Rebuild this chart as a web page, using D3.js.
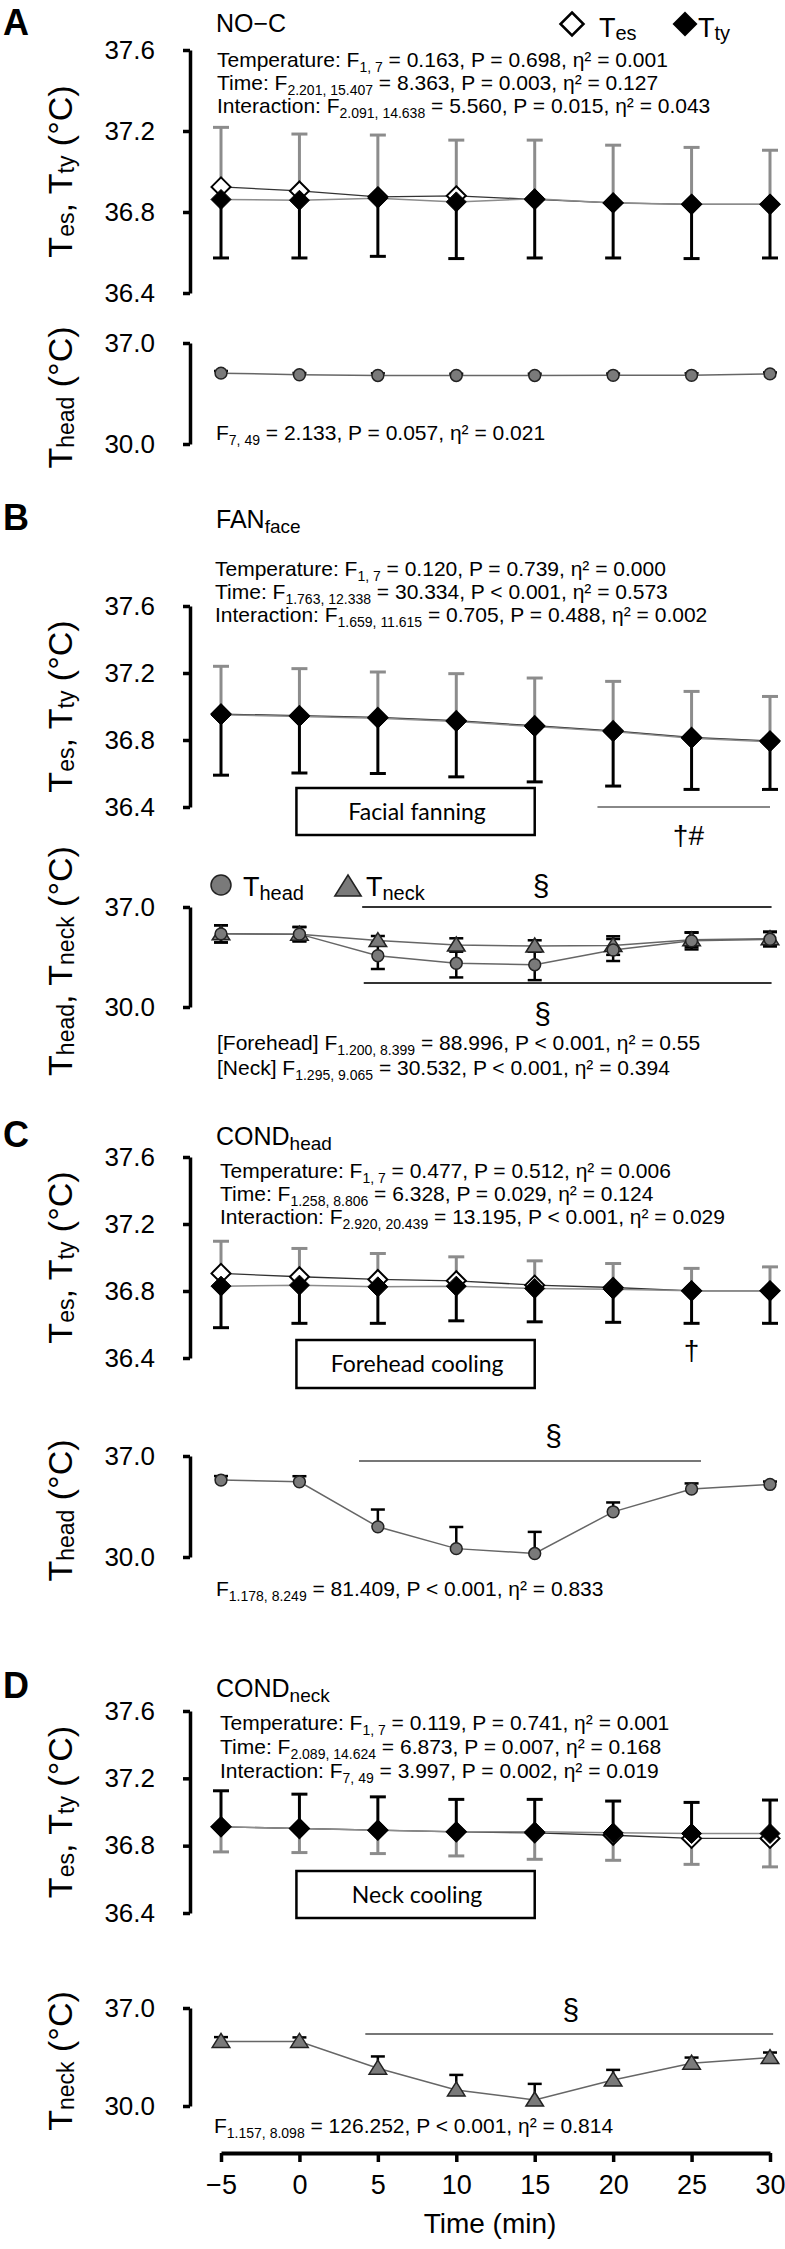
<!DOCTYPE html>
<html><head><meta charset="utf-8">
<script src="https://cdn.jsdelivr.net/npm/d3@7"></script>
<style>
body{margin:0;background:#fff}
svg{display:block;font-family:"Liberation Sans",Arial,sans-serif}
</style></head>
<body><svg width="785" height="2249"></svg>
<script>
const times = [-5, 0, 5, 10, 15, 20, 25, 30];
const upperTicks = [36.4, 36.8, 37.2, 37.6];
const lowerTicks = [30.0, 37.0];

// A  NO-C
const aTes   = [36.924, 36.904, 36.875, 36.880, 36.862, 36.845, 36.838, 36.838];
const aTesSd = [0.294, 0.281, 0.305, 0.275, 0.293, 0.285, 0.281, 0.267];
const aTty   = [36.862, 36.858, 36.868, 36.850, 36.866, 36.845, 36.838, 36.838];
const aTtySd = [0.289, 0.285, 0.287, 0.280, 0.293, 0.272, 0.268, 0.265];
const aHead   = [34.91, 34.80, 34.75, 34.75, 34.75, 34.76, 34.76, 34.86];
const aHeadSd = [0.15, 0.12, 0.15, 0.12, 0.12, 0.12, 0.14, 0.10];

// B  FAN_face
const bTes   = [36.955, 36.945, 36.935, 36.915, 36.885, 36.855, 36.815, 36.795];
const bTesSd = [0.285, 0.281, 0.271, 0.281, 0.285, 0.295, 0.275, 0.265];
const bTty   = [36.950, 36.940, 36.930, 36.910, 36.880, 36.850, 36.810, 36.790];
const bTtySd = [0.360, 0.337, 0.330, 0.330, 0.330, 0.325, 0.305, 0.285];
const bHead   = [35.12, 35.10, 33.59, 33.06, 32.96, 33.99, 34.63, 34.74];
const bHeadSd = [0.60, 0.50, 0.93, 0.99, 1.08, 0.77, 0.60, 0.50];
const bNeck   = [35.12, 35.10, 34.65, 34.34, 34.27, 34.30, 34.70, 34.78];
const bNeckSd = [0.60, 0.50, 0.32, 0.47, 0.40, 0.65, 0.50, 0.50];

// C  COND_head
const cTes   = [36.905, 36.885, 36.869, 36.861, 36.835, 36.821, 36.801, 36.801];
const cTesSd = [0.192, 0.169, 0.155, 0.143, 0.145, 0.143, 0.134, 0.143];
const cTty   = [36.829, 36.835, 36.825, 36.829, 36.815, 36.811, 36.801, 36.801];
const cTtySd = [0.248, 0.228, 0.218, 0.207, 0.199, 0.198, 0.194, 0.194];
const cHead   = [35.33, 35.21, 32.09, 30.58, 30.24, 33.13, 34.71, 35.03];
const cHeadSd = [0.28, 0.39, 1.20, 1.50, 1.50, 0.65, 0.39, 0.20];

// D  COND_neck
const dTes   = [36.912, 36.902, 36.892, 36.882, 36.876, 36.862, 36.843, 36.843];
const dTesSd = [0.149, 0.143, 0.139, 0.143, 0.157, 0.149, 0.154, 0.169];
const dTty   = [36.912, 36.902, 36.892, 36.882, 36.882, 36.876, 36.872, 36.872];
const dTtySd = [0.214, 0.204, 0.198, 0.193, 0.193, 0.189, 0.185, 0.199];
const dNeck   = [34.61, 34.61, 32.70, 31.15, 30.43, 31.86, 33.06, 33.46];
const dNeckSd = [0.31, 0.29, 0.84, 1.07, 1.15, 0.72, 0.40, 0.36];

const svg = d3.select('svg'),
    x = d3.scaleLinear().domain([-5, 30]).range([221, 770]),
    axisX = 190;

// text with _{sub} parts
function rich(g, str, px, py, size, subSize, subDy, anchor) {
  const t = g.append('text').attr('x', px).attr('y', py)
    .attr('font-size', size).attr('text-anchor', anchor || 'start');
  const parts = str.split(/(_\{[^}]*\})/).filter(s => s.length);
  let down = false;
  parts.forEach(p => {
    if (p.startsWith('_{')) {
      t.append('tspan').attr('font-size', subSize).attr('dy', subDy).text(p.slice(2, -1));
      down = true;
    } else {
      t.append('tspan').attr('dy', down ? -subDy : 0).text(p);
      down = false;
    }
  });
  return t;
}

const diamond = r => `M0,${-r}L${r},0L0,${r}L${-r},0Z`;
const triangle = r => `M0,${-r}L${r*1.1},${r*0.75}L${-r*1.1},${r*0.75}Z`;
const circle = d3.symbol(d3.symbolCircle, 110)();

function errBars(g, y, vals, sds, dir, color, w, cap) {
  times.forEach((t, i) => {
    const cx = x(t), v = vals[i], s = sds[i];
    const ends = dir == 'both' ? [v + s, v - s] : dir == 'up' ? [v + s] : [v - s];
    ends.forEach(e => {
      g.append('line').attr('x1', cx).attr('x2', cx).attr('y1', y(v)).attr('y2', y(e))
        .attr('stroke', color).attr('stroke-width', w);
      g.append('line').attr('x1', cx - cap).attr('x2', cx + cap).attr('y1', y(e)).attr('y2', y(e))
        .attr('stroke', color).attr('stroke-width', w);
    });
  });
}

function series(g, y, vals, color, w) {
  g.append('path').datum(vals)
    .attr('d', d3.line().x((d, i) => x(times[i])).y(d => y(d)))
    .attr('fill', 'none').attr('stroke', color).attr('stroke-width', w);
}

function markers(g, y, vals, shape, fill, stroke, sw) {
  g.selectAll(null).data(vals).enter().append('path')
    .attr('transform', (d, i) => `translate(${x(times[i])},${y(d)})`)
    .attr('d', shape).attr('fill', fill).attr('stroke', stroke).attr('stroke-width', sw);
}

function yAxis(y, ticks, label, labelY) {
  const ax = svg.append('g').attr('transform', `translate(${axisX},0)`)
    .call(d3.axisLeft(y).tickValues(ticks).tickFormat(d3.format('.1f'))
      .tickSize(7).tickSizeOuter(0).tickPadding(28));
  ax.select('.domain').attr('stroke-width', 3.5);
  ax.selectAll('.tick line').attr('stroke-width', 3.5);
  ax.selectAll('.tick text').attr('font-size', 26).attr('font-family', '"Liberation Sans",Arial,sans-serif');
  const t = rich(svg, label, 0, 0, 34, 23, 2, 'middle');
  t.attr('transform', `translate(72,${labelY}) rotate(-90)`);
}

function upperPanel(cfg) {
  const y = d3.scaleLinear().domain([36.4, 37.6]).range(cfg.range);
  yAxis(y, upperTicks, 'T_{es},  T_{ty}  (°C)', (cfg.range[0] + cfg.range[1]) / 2);
  const g = svg.append('g');
  // Tes error bars gray, Tty black
  errBars(g, y, cfg.tes, cfg.tesSd, cfg.tesDir, '#8c8c8c', 3, 8);
  errBars(g, y, cfg.tty, cfg.ttySd, cfg.ttyDir, '#000', 3, 8);
  series(g, y, cfg.tes, '#333', 1.3);
  series(g, y, cfg.tty, '#8c8c8c', 1.5);
  markers(g, y, cfg.tes, diamond(9.5), '#fff', '#000', 2);
  markers(g, y, cfg.tty, diamond(10), '#000', '#000', 1);
  cfg.stats.forEach((s, i) => rich(svg, s, cfg.statX, cfg.statY[i], 21, 14, 5));
  return y;
}

function lowerPanel(cfg) {
  const y = d3.scaleLinear().domain([30, 37]).range(cfg.range);
  yAxis(y, lowerTicks, cfg.label, (cfg.range[0] + cfg.range[1]) / 2 + 4);
  const g = svg.append('g');
  cfg.sets.forEach(s => errBars(g, y, s.vals, s.sds, s.dir, '#000', 2.5, 7));
  cfg.sets.forEach(s => series(g, y, s.vals, '#666', 1.5));
  cfg.sets.forEach(s => markers(g, y, s.vals, s.shape, '#7a7a7a', '#222', 1.5));
  cfg.stats.forEach((s, i) => rich(svg, s, cfg.statX, cfg.statY[i], 21, 14, 5));
  return y;
}

// panel letters and titles
[['A', 35], ['B', 530], ['C', 1147], ['D', 1698]].forEach(([l, yy]) =>
  svg.append('text').attr('x', 3).attr('y', yy).attr('font-size', 36).attr('font-weight', 'bold').text(l));
[['NO−C', 32], ['FAN_{face}', 528], ['COND_{head}', 1145], ['COND_{neck}', 1697]].forEach(([l, yy]) =>
  rich(svg, l, 216, yy, 25, 19, 5));

// legend A
svg.append('path').attr('transform', 'translate(572,24)').attr('d', diamond(11.5))
  .attr('fill', '#fff').attr('stroke', '#000').attr('stroke-width', 2.5);
rich(svg, 'T_{es}', 599, 37, 27, 20, 3);
svg.append('path').attr('transform', 'translate(685,24)').attr('d', diamond(12.5)).attr('fill', '#000');
rich(svg, 'T_{ty}', 698, 37, 27, 20, 3);

// ---- A
upperPanel({range: [293, 50], tes: aTes, tesSd: aTesSd, tesDir: 'up', tty: aTty, ttySd: aTtySd, ttyDir: 'down',
  statX: 217, statY: [67, 90, 113],
  stats: ['Temperature: F_{1, 7} = 0.163, P = 0.698, η² = 0.001',
          'Time: F_{2.201, 15.407} = 8.363, P = 0.003, η² = 0.127',
          'Interaction: F_{2.091, 14.638} = 5.560, P = 0.015, η² = 0.043']});
lowerPanel({range: [444, 343], label: 'T_{head}  (°C)',
  sets: [{vals: aHead, sds: aHeadSd, dir: 'up', shape: circle}],
  statX: 216, statY: [440], stats: ['F_{7, 49} = 2.133, P = 0.057, η² = 0.021']});

// ---- B
upperPanel({range: [807, 606], tes: bTes, tesSd: bTesSd, tesDir: 'up', tty: bTty, ttySd: bTtySd, ttyDir: 'down',
  statX: 215, statY: [576, 599, 622],
  stats: ['Temperature: F_{1, 7} = 0.120, P = 0.739, η² = 0.000',
          'Time: F_{1.763, 12.338} = 30.334, P < 0.001, η² = 0.573',
          'Interaction: F_{1.659, 11.615} = 0.705, P = 0.488, η² = 0.002']});
lowerPanel({range: [1007, 907], label: 'T_{head},  T_{neck}  (°C)',
  sets: [{vals: bNeck, sds: bNeckSd, dir: 'both', shape: triangle(8)},
         {vals: bHead, sds: bHeadSd, dir: 'both', shape: circle}],
  statX: 217, statY: [1050, 1075],
  stats: ['[Forehead] F_{1.200, 8.399} = 88.996, P < 0.001, η² = 0.55',
          '[Neck] F_{1.295, 9.065} = 30.532, P < 0.001, η² = 0.394']});

// ---- C
upperPanel({range: [1358, 1157], tes: cTes, tesSd: cTesSd, tesDir: 'up', tty: cTty, ttySd: cTtySd, ttyDir: 'down',
  statX: 220, statY: [1178, 1201, 1224],
  stats: ['Temperature: F_{1, 7} = 0.477, P = 0.512, η² = 0.006',
          'Time: F_{1.258, 8.806} = 6.328, P = 0.029, η² = 0.124',
          'Interaction: F_{2.920, 20.439} = 13.195, P < 0.001, η² = 0.029']});
lowerPanel({range: [1557, 1456], label: 'T_{head}  (°C)',
  sets: [{vals: cHead, sds: cHeadSd, dir: 'up', shape: circle}],
  statX: 216, statY: [1596], stats: ['F_{1.178, 8.249} = 81.409, P < 0.001, η² = 0.833']});

// ---- D
upperPanel({range: [1913, 1711], tes: dTes, tesSd: dTesSd, tesDir: 'down', tty: dTty, ttySd: dTtySd, ttyDir: 'up',
  statX: 220, statY: [1730, 1754, 1778],
  stats: ['Temperature: F_{1, 7} = 0.119, P = 0.741, η² = 0.001',
          'Time: F_{2.089, 14.624} = 6.873, P = 0.007, η² = 0.168',
          'Interaction: F_{7, 49} = 3.997, P = 0.002, η² = 0.019']});
lowerPanel({range: [2106, 2008], label: 'T_{neck}  (°C)',
  sets: [{vals: dNeck, sds: dNeckSd, dir: 'up', shape: triangle(8)}],
  statX: 214, statY: [2133], stats: ['F_{1.157, 8.098} = 126.252, P < 0.001, η² = 0.814']});

// intervention boxes (0–15 min)
[['Facial fanning', 788, 835], ['Forehead cooling', 1340, 1388], ['Neck cooling', 1871, 1918]].forEach(([l, y0, y1]) => {
  svg.append('rect').attr('x', x(0) - 3).attr('y', y0).attr('width', x(15) - x(0) + 3).attr('height', y1 - y0)
    .attr('fill', '#fff').attr('stroke', '#000').attr('stroke-width', 2.5);
  svg.append('text').attr('x', (x(0) + x(15)) / 2).attr('y', (y0 + y1) / 2 + 8)
    .attr('text-anchor', 'middle').attr('font-family', 'Lato, "Open Sans", sans-serif').attr('font-size', 23).text(l);
});

// significance marks
function mark(t0, t1, yy, color) {
  svg.append('line').attr('x1', x(t0)).attr('x2', x(t1)).attr('y1', yy).attr('y2', yy)
    .attr('stroke', color).attr('stroke-width', 2);
}
function sym(s, t, yy, size) {
  svg.append('text').attr('x', x(t)).attr('y', yy).attr('text-anchor', 'middle').attr('font-size', size).text(s);
}
mark(19, 30, 807, '#888'); sym('†#', 24.8, 845, 28);
mark(4, 30.1, 907, '#333'); sym('§', 15.4, 896, 30);
mark(4.1, 30.1, 983, '#333'); sym('§', 15.5, 1024, 30);
sym('†', 25, 1360, 28);
mark(3.8, 25.6, 1461, '#777'); sym('§', 16.2, 1446, 30);
mark(4.2, 30.2, 2034, '#777'); sym('§', 17.3, 2020, 30);

// legend B lower
svg.append('circle').attr('cx', 221).attr('cy', 885).attr('r', 10).attr('fill', '#7a7a7a').attr('stroke', '#222').attr('stroke-width', 1.5);
rich(svg, 'T_{head}', 243, 896, 27, 20, 4);
svg.append('path').attr('transform', 'translate(348,887)').attr('d', triangle(12)).attr('fill', '#7a7a7a').attr('stroke', '#222').attr('stroke-width', 1.5);
rich(svg, 'T_{neck}', 366, 896, 27, 20, 4);

// x axis at bottom
const xa = svg.append('g').attr('transform', 'translate(0,2153)')
  .call(d3.axisBottom(x).tickValues(times).tickSize(9).tickSizeOuter(0).tickPadding(13));
xa.select('.domain').attr('stroke-width', 4);
xa.selectAll('.tick line').attr('stroke-width', 3.5);
xa.selectAll('.tick text').attr('font-size', 27).attr('font-family', '"Liberation Sans",Arial,sans-serif');
svg.append('text').attr('x', 490).attr('y', 2233).attr('text-anchor', 'middle').attr('font-size', 28).text('Time (min)');
</script>
</body></html>
